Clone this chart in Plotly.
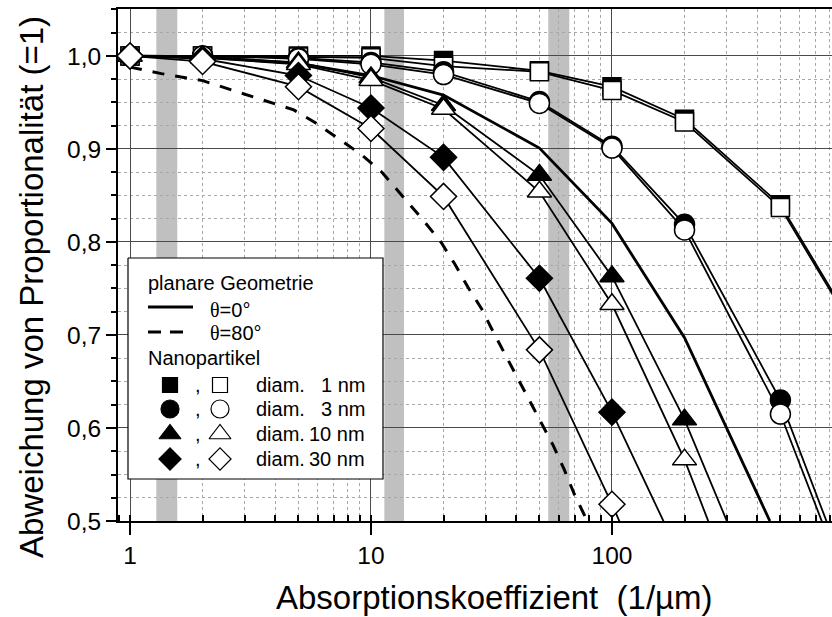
import plotly.graph_objects as go

# ---------------- data ----------------
x_np = [1, 2, 5, 10, 20, 50, 100, 200, 500, 1000]
d1_filled = [1.000, 1.000, 1.000, 1.000, 0.995, 0.984, 0.967, 0.932, 0.840, 0.710]
d1_open = [1.000, 1.000, 0.999, 0.998, 0.989, 0.983, 0.963, 0.929, 0.837, 0.707]
d3_filled = [1.000, 1.000, 0.998, 0.993, 0.983, 0.951, 0.903, 0.819, 0.630, 0.425]
d3_open = [1.000, 1.000, 0.997, 0.991, 0.980, 0.949, 0.901, 0.813, 0.615, 0.413]
d10_filled = [1.000, 0.999, 0.993, 0.977, 0.947, 0.872, 0.763, 0.609, 0.362]
d10_open = [1.000, 0.998, 0.991, 0.974, 0.943, 0.854, 0.733, 0.566, 0.299]
d30_filled = [1.000, 0.997, 0.979, 0.944, 0.891, 0.761, 0.617, 0.452]
d30_open = [1.000, 0.994, 0.967, 0.922, 0.849, 0.684, 0.518, 0.340]

x_planar0 = [1, 2, 5, 10, 20, 50, 100, 200, 452]
y_planar0 = [1.000, 0.999, 0.992, 0.979, 0.958, 0.901, 0.820, 0.697, 0.500]

x_planar80 = [1, 1.35, 2, 2.47, 3.11, 3.82, 4.78, 5.9, 7.32, 9.12, 11.1, 16.4, 19.5,
              22.3, 25.3, 28.8, 32.2, 36.2, 40.9, 45.7, 51.1, 57.1, 63.2, 69.5, 76.9, 78.5]
y_planar80 = [0.988, 0.981, 0.9735, 0.966, 0.958, 0.950, 0.942, 0.928, 0.9115, 0.894, 0.875,
              0.824, 0.800, 0.776, 0.751, 0.728, 0.703, 0.678, 0.653, 0.629, 0.605, 0.581,
              0.556, 0.530, 0.506, 0.500]

band_lo = [1.286, 11.36, 54.4]
band_hi = [1.571, 13.71, 66.5]

diam_labels = ["1 nm", "3 nm", "10 nm", "30 nm"]
symbols = ["square", "circle", "triangle-up", "diamond"]
main_sizes = [18, 20, 21, 20]
leg_sizes = [15, 18, 19, 17]

series = [
    (d1_filled, d1_open),
    (d3_filled, d3_open),
    (d10_filled, d10_open),
    (d30_filled, d30_open),
]

FONT = "Liberation Sans, Arial, sans-serif"

# layout geometry (pixels)
L, R, T, B = 118, 832, 9, 521
W, H = 832, 617


def fx(px):
    return (px - L) / (R - L)


def fy(py):
    return (B - py) / (B - T)


fig = go.Figure()

# planar geometry lines
fig.add_trace(go.Scatter(x=x_planar0, y=y_planar0, mode="lines",
                         line=dict(color="black", width=2.8), hoverinfo="skip"))
fig.add_trace(go.Scatter(x=x_planar80, y=y_planar80, mode="lines",
                         line=dict(color="black", width=3, dash="12px,11px"), hoverinfo="skip"))

# nanoparticle lines
for filled, opened in series:
    for ys in (filled, opened):
        fig.add_trace(go.Scatter(x=x_np[:len(ys)], y=ys, mode="lines",
                                 line=dict(color="black", width=1.8), hoverinfo="skip"))

# nanoparticle markers (filled first, open on top)
for (filled, opened), sym, sz in zip(series, symbols, main_sizes):
    fig.add_trace(go.Scatter(x=x_np[:len(filled)], y=filled, mode="markers",
                             marker=dict(symbol=sym, size=sz, color="black",
                                         line=dict(color="black", width=1.5)),
                             hoverinfo="skip"))
    fig.add_trace(go.Scatter(x=x_np[:len(opened)], y=opened, mode="markers",
                             marker=dict(symbol=sym, size=sz, color="white",
                                         line=dict(color="black", width=1.5)),
                             hoverinfo="skip"))

# ---------------- custom legend (overlay axes 0..1) ----------------
bx0, bx1, by0, by1 = 128, 383, 258, 479
fig.add_trace(go.Scatter(x=[fx(bx0), fx(bx1), fx(bx1), fx(bx0), fx(bx0)],
                         y=[fy(by0), fy(by0), fy(by1), fy(by1), fy(by0)],
                         mode="lines", fill="toself", fillcolor="white",
                         line=dict(color="black", width=1.2),
                         xaxis="x2", yaxis="y2", hoverinfo="skip"))
fig.add_trace(go.Scatter(x=[fx(148), fx(193)], y=[fy(307), fy(307)], mode="lines",
                         line=dict(color="black", width=3), xaxis="x2", yaxis="y2",
                         hoverinfo="skip"))
fig.add_trace(go.Scatter(x=[fx(148), fx(184)], y=[fy(332), fy(332)], mode="lines",
                         line=dict(color="black", width=3, dash="13px,9px"),
                         xaxis="x2", yaxis="y2", hoverinfo="skip"))
row_y = [385, 409, 434, 459]
for sym, sz, ry in zip(symbols, leg_sizes, row_y):
    fig.add_trace(go.Scatter(x=[fx(170)], y=[fy(ry)], mode="markers",
                             marker=dict(symbol=sym, size=sz, color="black",
                                         line=dict(color="black", width=1.2)),
                             xaxis="x2", yaxis="y2", hoverinfo="skip"))
    fig.add_trace(go.Scatter(x=[fx(220)], y=[fy(ry)], mode="markers",
                             marker=dict(symbol=sym, size=sz, color="white",
                                         line=dict(color="black", width=1.2)),
                             xaxis="x2", yaxis="y2", hoverinfo="skip"))

annotations = []


def txt(text, px, py, xanchor="left", size=20, angle=0):
    annotations.append(dict(text=text, x=fx(px), y=fy(py), xref="paper", yref="paper",
                            xanchor=xanchor, yanchor="middle", showarrow=False,
                            textangle=angle,
                            font=dict(family=FONT, size=size, color="black")))


theta = "<span style='font-family:Liberation Serif'>θ</span>"
txt("planare Geometrie", 146, 283)
txt(theta + "=0°", 208, 310)
txt(theta + "=80°", 208, 333)
txt("Nanopartikel", 146, 358)
for lab, ry in zip(diam_labels, row_y):
    txt(",", 193, ry)
    txt("diam.", 254, ry)
    txt(lab, 367, ry, xanchor="right")

# axis titles
txt("Absorptionskoeffizient\u00a0\u00a0(1/µm)", 494, 597, xanchor="center", size=33)
txt("Abweichung von Proportionalität (=1)", 31, 287, xanchor="center", size=33, angle=-90)

shapes = []
for lo, hi in zip(band_lo, band_hi):
    shapes.append(dict(type="rect", xref="x", yref="paper", x0=lo, x1=hi, y0=0, y1=1,
                       fillcolor="#c0c0c0", line=dict(width=0), layer="below"))

fig.update_layout(
    width=W, height=H,
    margin=dict(l=L, r=W - R, t=T, b=H - B, pad=0),
    paper_bgcolor="white", plot_bgcolor="white",
    showlegend=False,
    separators=", ",
    font=dict(family=FONT, color="black"),
    shapes=shapes,
    annotations=annotations,
    xaxis=dict(
        type="log", range=[-0.0498, 2.913], dtick=1, tick0=0,
        ticks="outside", ticklen=12, tickwidth=1.5, tickcolor="black",
        showline=True, linewidth=2, linecolor="black", mirror=True,
        showgrid=True, gridcolor="#4a4a4a", gridwidth=1, zeroline=False,
        tickfont=dict(family=FONT, size=24.5, color="black"),
        minor=dict(dtick="D1", ticks="inside", ticklen=6, tickwidth=1.5, tickcolor="black",
                   showgrid=True, gridcolor="#a8a8a8", griddash="dot", gridwidth=1),
    ),
    yaxis=dict(
        range=[0.5, 1.0505], dtick=0.1, tick0=0.5, tickformat=".1f",
        ticks="outside", ticklen=10, tickwidth=1.5, tickcolor="black",
        showline=True, linewidth=2, linecolor="black",
        showgrid=True, gridcolor="#4a4a4a", gridwidth=1, zeroline=False,
        tickfont=dict(family=FONT, size=24.5, color="black"),
        minor=dict(dtick=0.025, tick0=0.5, ticks="outside", ticklen=5, tickwidth=1.5,
                   tickcolor="black", showgrid=True, gridcolor="#a8a8a8", griddash="dot",
                   gridwidth=1),
    ),
    xaxis2=dict(overlaying="x", range=[0, 1], visible=False, showgrid=False, fixedrange=True),
    yaxis2=dict(overlaying="y", range=[0, 1], visible=False, showgrid=False, fixedrange=True),
)

fig.write_html("out.html")
